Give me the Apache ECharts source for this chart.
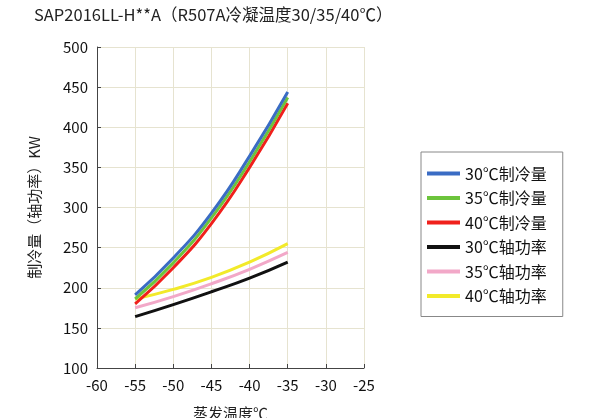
<!DOCTYPE html>
<html>
<head>
<meta charset="utf-8">
<script src="https://cdn.jsdelivr.net/npm/echarts@6/dist/echarts.min.js"></script>
<style>
html,body{margin:0;padding:0;background:#fff;}
#c{width:598px;height:418px;}
</style>
</head>
<body>
<div id="c"></div>
<script>
var evapTemps = [-55, -50, -45, -40, -35];
var names = ['30℃制冷量','35℃制冷量','40℃制冷量','30℃轴功率','35℃轴功率','40℃轴功率'];
var cool30 = [191, 237, 293, 364, 444];
var cool35 = [186, 231, 287, 357, 437];
var cool40 = [180, 225, 280, 350, 430];
var power30 = [164, 179, 195, 212, 232];
var power35 = [175, 189, 205, 223, 244];
var power40 = [186, 198, 213, 232, 255];
var xTicks = [-60, -55, -50, -45, -40, -35, -30, -25];
var yTicks = [100, 150, 200, 250, 300, 350, 400, 450, 500];
var colors = ['#3a6cc4', '#6cc43c', '#f0201c', '#111111', '#f2a8c8', '#f2ea2a'];

var seriesValues = [cool30, cool35, cool40, power30, power35, power40];
var font = '"Noto Sans CJK SC", "Noto Sans", sans-serif';

var chart = echarts.init(document.getElementById('c'));
chart.setOption({
  backgroundColor: '#ffffff',
  animation: false,
  title: {
    text: 'SAP2016LL-H**A（R507A冷凝温度30/35/40℃）',
    left: 29, top: 1,
    textStyle: {fontFamily: font, fontSize: 16.5, fontWeight: 'normal', color: '#222'}
  },
  legend: {
    orient: 'vertical',
    left: 421, top: 152,
    padding: [13, 16, 12, 6],
    borderColor: '#888', borderWidth: 1,
    itemWidth: 33, itemHeight: 4, itemGap: 7.5,
    icon: 'rect',
    data: names,
    textStyle: {fontFamily: font, fontSize: 16, color: '#111', lineHeight: 17}
  },
  grid: {left: 97, right: 234, top: 47, bottom: 50, containLabel: false, outerBoundsMode: 'none'},
  xAxis: {
    type: 'value', min: xTicks[0], max: xTicks[xTicks.length - 1], interval: 5,
    name: '蒸发温度℃', nameLocation: 'middle', nameGap: 38,
    nameTextStyle: {fontFamily: font, fontSize: 15, color: '#222'},
    axisLine: {show: true, lineStyle: {color: '#444', width: 1}},
    axisTick: {show: true, inside: true, length: 4, lineStyle: {color: '#444'}},
    axisLabel: {fontFamily: font, fontSize: 15, color: '#111', margin: 10},
    splitLine: {show: true, lineStyle: {color: '#e6e3d0', width: 1}}
  },
  yAxis: {
    type: 'value', min: yTicks[0], max: yTicks[yTicks.length - 1], interval: 50,
    name: '制冷量（轴功率）KW', nameLocation: 'middle', nameGap: 55, nameRotate: 90,
    nameTextStyle: {fontFamily: font, fontSize: 15, color: '#222'},
    axisLine: {show: true, lineStyle: {color: '#444', width: 1}},
    axisTick: {show: true, inside: true, length: 4, lineStyle: {color: '#444'}},
    axisLabel: {fontFamily: font, fontSize: 15, color: '#111', margin: 9},
    splitLine: {show: true, lineStyle: {color: '#e6e3d0', width: 1}}
  },
  series: names.map(function (n, i) {
    return {
      name: n, type: 'line', smooth: true, showSymbol: false, symbol: 'none',
      lineStyle: {color: colors[i], width: 3},
      itemStyle: {color: colors[i]},
      data: evapTemps.map(function (x, j) { return [x, seriesValues[i][j]]; }),
      z: 10 - i
    };
  })
});
</script>
</body>
</html>
